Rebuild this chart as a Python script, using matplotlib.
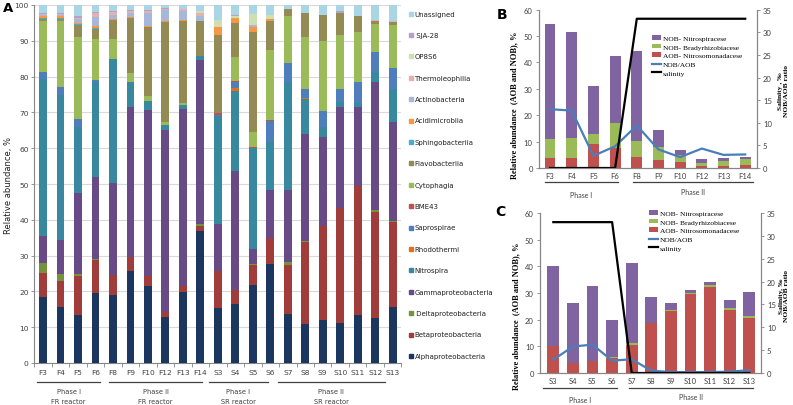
import matplotlib
matplotlib.use("Agg")
import matplotlib.pyplot as plt
from matplotlib.patches import Rectangle
import numpy as np

plt.rcParams["font.family"] = ["DejaVu Sans"]

# ---- panel A: class-level composition ------------------------------------
samples = ["F3", "F4", "F5", "F6", "F8", "F9", "F10", "F12", "F13", "F14",
           "S3", "S4", "S5", "S6", "S7", "S8", "S9", "S10", "S11", "S12", "S13"]

alpha = [18.5, 15.7, 13.5, 19.6, 19.1, 25.8, 21.6, 12.8, 19.7, 37.0, 15.3, 16.5, 21.8, 27.7, 13.7, 10.9, 12.0, 11.2, 13.4, 12.6, 15.6]
beta = [6.6, 7.3, 10.7, 9.2, 5.6, 3.7, 2.8, 1.4, 1.7, 1.4, 10.5, 3.9, 5.5, 7.2, 13.8, 22.8, 26.2, 32.0, 36.0, 29.7, 23.9]
delta = [2.8, 1.8, 0.7, 0.3, 0, 0, 0, 0, 0.1, 0.4, 0, 0, 0.4, 0, 0.8, 0.3, 0, 0.2, 0, 0.3, 0.3]
gamma = [7.7, 9.6, 22.5, 22.9, 25.7, 42.1, 46.3, 51.0, 49.4, 45.8, 13.0, 33.3, 4.1, 13.4, 20.0, 30.1, 24.8, 28.2, 22.2, 36.0, 27.6]
nitrospira = [43.7, 40.5, 18.4, 26.4, 34.5, 6.8, 2.6, 1.3, 1.2, 1.1, 30.2, 22.4, 28.2, 13.5, 30.1, 9.6, 2.8, 1.2, 1.0, 2.8, 9.1]
rhodothermi = [0, 0, 0, 0, 0, 0, 0, 0, 0, 0, 0, 0.8, 0, 0, 0, 0.3, 0, 0, 0, 0, 0]
saprospirae = [2.1, 2.1, 2.4, 0.6, 0, 0, 0, 0, 0, 0, 0.3, 1.6, 0, 5.9, 5.4, 2.5, 4.7, 3.7, 6.0, 5.6, 5.9]
bme43 = [0, 0, 0, 0, 0, 0, 0, 0, 0, 0, 0.4, 0.4, 0.4, 0.3, 0, 0, 0, 0, 0, 0, 0]
cytophagia = [14.2, 18.6, 23.0, 11.5, 5.6, 2.6, 1.4, 0.7, 0.5, 0, 0.2, 6.5, 4.1, 19.5, 13.0, 14.7, 19.5, 15.1, 13.9, 7.7, 12.0]
flavobacteriia = [0.4, 0.6, 3.2, 2.9, 5.4, 15.3, 19.1, 28.1, 23.0, 9.7, 21.6, 9.6, 28.0, 8.1, 2.1, 6.7, 7.2, 6.2, 4.3, 0.9, 0.8]
sphingobacteriia = [0.3, 0.2, 0.3, 0.3, 0, 0, 0, 0, 0, 0, 0, 0, 0, 0, 0, 0, 0, 0, 0, 0, 0]
acidimicrobiia = [0.6, 0.4, 0.4, 0.5, 0.3, 0.3, 0.3, 0.3, 0.3, 0, 2.4, 1.3, 1.4, 0.4, 0, 0, 0, 0, 0, 0, 0]
actinobacteria = [0.2, 0.3, 1.0, 2.4, 1.0, 1.2, 3.6, 2.9, 2.4, 1.6, 0, 0, 0.6, 0.2, 0, 0, 0, 0, 0, 0, 0]
thermoleophilia = [0.5, 0.5, 0.4, 1.2, 0.9, 0.5, 0.5, 0.4, 0.5, 0.9, 0, 0, 0, 0, 0, 0, 0, 0, 0, 0.2, 0.3]
op8s6 = [0, 0, 0, 0, 0, 0, 0, 0, 0, 0.4, 1.9, 0.7, 3.1, 1.0, 0, 0, 0, 0, 0, 0, 0]
sja28 = [0.2, 0.2, 0.3, 0.2, 0.2, 0.2, 0.3, 0.2, 0.2, 0, 0, 0.2, 0, 0, 0, 0, 0, 0.4, 0, 0, 0]
unassigned = [2.2, 2.2, 3.2, 2.0, 1.7, 1.5, 1.5, 0.9, 1.0, 1.7, 4.2, 2.8, 2.4, 2.8, 1.1, 2.1, 2.8, 1.8, 3.2, 4.2, 4.5]

# bottom -> top stacking order
class_names = ["Alphaproteobacteria", "Betaproteobacteria", " Deltaproteobacteria",
               "Gammaproteobacteria", "Nitrospira", "Rhodothermi", "Saprospirae",
               "BME43", "Cytophagia", "Flavobacteriia", "Sphingobacteriia",
               "Acidimicrobiia", "Actinobacteria", "Thermoleophilia", "OP8S6",
               " SJA-28", "Unassigned"]
class_values = [alpha, beta, delta, gamma, nitrospira, rhodothermi, saprospirae,
                bme43, cytophagia, flavobacteriia, sphingobacteriia, acidimicrobiia,
                actinobacteria, thermoleophilia, op8s6, sja28, unassigned]
class_colors = ["#1B365F", "#A03C3A", "#76923C", "#684A87", "#3889A0", "#E0701E",
                "#4E7FBC", "#C0504D", "#9BBB59", "#948A54", "#4BACC6", "#F79646",
                "#A7B7DA", "#E4B0B0", "#CFDFB2", "#B3A2C7", "#A9D5E4"]

# ---- panels B and C: AOB / NOB ------------------------------------------
b_samples = ["F3", "F4", "F5", "F6", "F8", "F9", "F10", "F12", "F13", "F14"]
b_aob = [3.8, 3.8, 9.0, 7.5, 4.2, 3.0, 2.2, 0.8, 0.8, 1.2]
b_brady = [7.2, 7.4, 4.0, 9.5, 6.2, 5.0, 2.8, 1.2, 2.0, 2.2]
b_nitrospir = [43.6, 40.5, 18.2, 25.5, 33.9, 6.5, 1.8, 1.4, 0.9, 0.9]
b_ratio = [13.0, 12.7, 2.7, 4.8, 9.4, 4.1, 2.4, 4.3, 2.9, 3.0]
b_salinity = [0, 0, 0, 0, 33, 33, 33, 33, 33, 33]

c_samples = ["S3", "S4", "S5", "S6", "S7", "S8", "S9", "S10", "S11", "S12", "S13"]
c_aob = [10.2, 3.8, 4.5, 5.5, 10.5, 18.6, 23.2, 29.8, 32.4, 23.8, 20.5]
c_brady = [0, 0, 0, 0.6, 0.8, 0.3, 0.4, 0.3, 0.7, 0.5, 0.8]
c_nitrospir = [30.1, 22.5, 28.0, 13.6, 29.9, 9.5, 2.7, 1.1, 0.9, 2.9, 9.0]
c_ratio = [2.9, 5.8, 6.2, 2.7, 3.0, 0.5, 0.2, 0.2, 0.2, 0.3, 0.6]
c_salinity = [33, 33, 33, 33, 0, 0, 0, 0, 0, 0, 0]

W, H = 793, 406
GRAY = "#868686"
TXT = "#404040"


def fig_rect(x0, y0, x1, y1):
    """pixel box (top-left origin) -> figure fraction rect"""
    return [x0 / W, 1 - y1 / H, (x1 - x0) / W, (y1 - y0) / H]


fig = plt.figure(figsize=(W / 100, H / 100), dpi=100)

# ============================ panel A =====================================
ax = fig.add_axes(fig_rect(34.3, 6, 401.4, 364))
x = np.arange(len(samples))
bottom = np.zeros(len(samples))
for name, vals, col in zip(class_names, class_values, class_colors):
    vals = np.array(vals, dtype=float)
    ax.bar(x, vals, 0.45, bottom=bottom, color=col, label=name, zorder=3)
    bottom += vals

ax.set_xlim(-0.5, len(samples) - 0.5)
ax.set_ylim(0, 100)
ax.set_yticks(np.arange(0, 101, 10))
ax.yaxis.grid(True, color="#D9D9D9", lw=0.8, zorder=0)
ax.set_xticks(x)
ax.set_xticklabels(samples)
ax.set_xticks(np.arange(-0.5, len(samples), 1), minor=True)
ax.tick_params(axis="x", which="major", length=0, pad=4, labelsize=5.4, labelcolor=TXT)
ax.tick_params(axis="x", which="minor", length=3, color=GRAY, width=0.6)
ax.tick_params(axis="y", length=2.5, color=GRAY, width=0.6, labelsize=5.4,
               labelcolor=TXT, pad=1.5)
for s in ["top", "right"]:
    ax.spines[s].set_visible(False)
for s in ["left", "bottom"]:
    ax.spines[s].set_color(GRAY)
    ax.spines[s].set_linewidth(0.8)
ax.set_ylabel("Relative abundance, %", fontsize=6, color="#202020")
ax.yaxis.set_label_coords(-0.058, 0.5)

a_phases = [(-0.34, 3.26, "Phase I", "FR reactor"),
            (3.77, 9.09, "Phase II", "FR reactor"),
            (9.49, 12.86, "Phase I", "SR reactor"),
            (13.43, 19.54, "Phase II", "SR reactor")]
tr = ax.get_xaxis_transform()
for x0, x1, l1, l2 in a_phases:
    ax.plot([x0, x1], [-0.053, -0.053], color="#404040", lw=0.9, transform=tr, clip_on=False)
    xm = (x0 + x1) / 2
    ax.text(xm, -0.079, l1, transform=tr, ha="center", va="center", fontsize=4.8, color=TXT)
    ax.text(xm, -0.106, l2, transform=tr, ha="center", va="center", fontsize=4.8, color=TXT)

# legend for panel A: evenly spaced rows, top row = last stacked class
for i, (name, col) in enumerate(zip(class_names[::-1], class_colors[::-1])):
    yc = 14.5 + i * 21.4
    fig.patches.append(Rectangle(((408.5) / W, 1 - (yc + 2) / H), 4 / W, 4 / H,
                                 transform=fig.transFigure, color=col))
    fig.text(414.5 / W, 1 - yc / H, name, fontsize=5.0, color="#202020", va="center")


# ========================= panels B and C =================================
def nitrifier_panel(rect, labels, aob, brady, nitro, ratio, salinity, xlim, width,
                    phases, legend_xy, sal_label, ylab_y, ylab_x, rlab_xy):
    axl = fig.add_axes(rect)
    xi = np.arange(len(labels))
    aob = np.array(aob)
    brady = np.array(brady)
    nitro = np.array(nitro)
    h3 = axl.bar(xi, aob, width, color="#C0504D", label="AOB- Nitrosomonadacese")
    h2 = axl.bar(xi, brady, width, bottom=aob, color="#9BBB59", label="NOB- Bradyrhizobiacese")
    h1 = axl.bar(xi, nitro, width, bottom=aob + brady, color="#8064A2", label="NOB- Nitrospiracese")
    axl.set_xlim(*xlim)
    axl.set_ylim(0, 60)
    axl.set_yticks(np.arange(0, 61, 10))
    axl.set_xticks(xi)
    axl.set_xticklabels(labels)

    axr = axl.twinx()
    l1, = axr.plot(xi, ratio, color="#4A7EBB", lw=1.6, label="NOB/AOB")
    l2, = axr.plot(xi, salinity, color="black", lw=1.6, label="salinity")
    axr.set_ylim(0, 35)
    axr.set_yticks(np.arange(0, 36, 5))

    for a in (axl, axr):
        a.spines["top"].set_visible(False)
        for s in ["left", "right", "bottom"]:
            a.spines[s].set_color(GRAY)
            a.spines[s].set_linewidth(0.8)
        a.tick_params(axis="y", length=2.5, color=GRAY, width=0.6, labelsize=5.5,
                      labelcolor=TXT, labelfontfamily="Lato", pad=2)
    axl.tick_params(axis="x", length=0, pad=3, labelsize=5.5, labelcolor=TXT,
                    labelfontfamily="Lato")
    axl.set_ylabel("Relative abundance  (AOB and NOB), %", fontsize=6,
                   family="Liberation Serif", weight="bold")
    axl.yaxis.set_label_coords(ylab_x, ylab_y)
    fig.text(rlab_xy[0] / W, 1 - rlab_xy[1] / H, sal_label + "\nNOB/AOB ratio",
             rotation=90, ha="center", va="center", multialignment="center",
             fontsize=5.4, family="Liberation Serif", weight="bold", linespacing=1.05)

    trb = axl.get_xaxis_transform()
    for x0, x1, text, yl, yt in phases:
        axl.plot([x0, x1], [yl, yl], color="#404040", lw=0.9, transform=trb, clip_on=False)
        axl.text((x0 + x1) / 2, yt, text, transform=trb, ha="center", va="center",
                 fontsize=5, color=TXT, family="Lato")

    fig.legend([h1, h2, h3, l1, l2],
               ["NOB- Nitrospiracese", "NOB- Bradyrhizobiacese", "AOB- Nitrosomonadacese",
                "NOB/AOB", "salinity"],
               loc="upper left", bbox_to_anchor=legend_xy, frameon=False,
               prop={"family": "Liberation Serif", "size": 5.4},
               handlelength=1.25, handleheight=0.6, handletextpad=0.2,
               labelspacing=0.36, borderaxespad=0, borderpad=0)
    return axl, axr


nitrifier_panel(fig_rect(539, 10.7, 756.7, 169), b_samples, b_aob, b_brady, b_nitrospir,
                b_ratio, b_salinity, (-0.51, 9.53), 0.5,
                [(-0.23, 3.13, "Phase I", -0.087, -0.165),
                 (3.82, 9.35, "Phase II", -0.087, -0.150)],
                (652 / W, 1 - 36 / H), "Salinity , ‰", 0.40, -0.095, (783.5, 91))

nitrifier_panel(fig_rect(540, 214, 760.7, 374), c_samples, c_aob, c_brady, c_nitrospir,
                c_ratio, c_salinity, (-0.68, 10.58), 0.6,
                [(-0.53, 3.25, "Phase I", -0.094, -0.168),
                 (3.86, 10.19, "Phase II", -0.094, -0.148)],
                (649 / W, 1 - 211 / H), "Salinity, ‰", 0.36, -0.09, (784, 296))

fig.text(3 / W, 1 - 9 / H, "A", fontsize=9.5, weight="bold", va="center")
fig.text(497 / W, 1 - 15 / H, "B", fontsize=10, weight="bold", va="center")
fig.text(495 / W, 1 - 212 / H, "C", fontsize=10, weight="bold", va="center")

fig.savefig("out.png", dpi=100)
